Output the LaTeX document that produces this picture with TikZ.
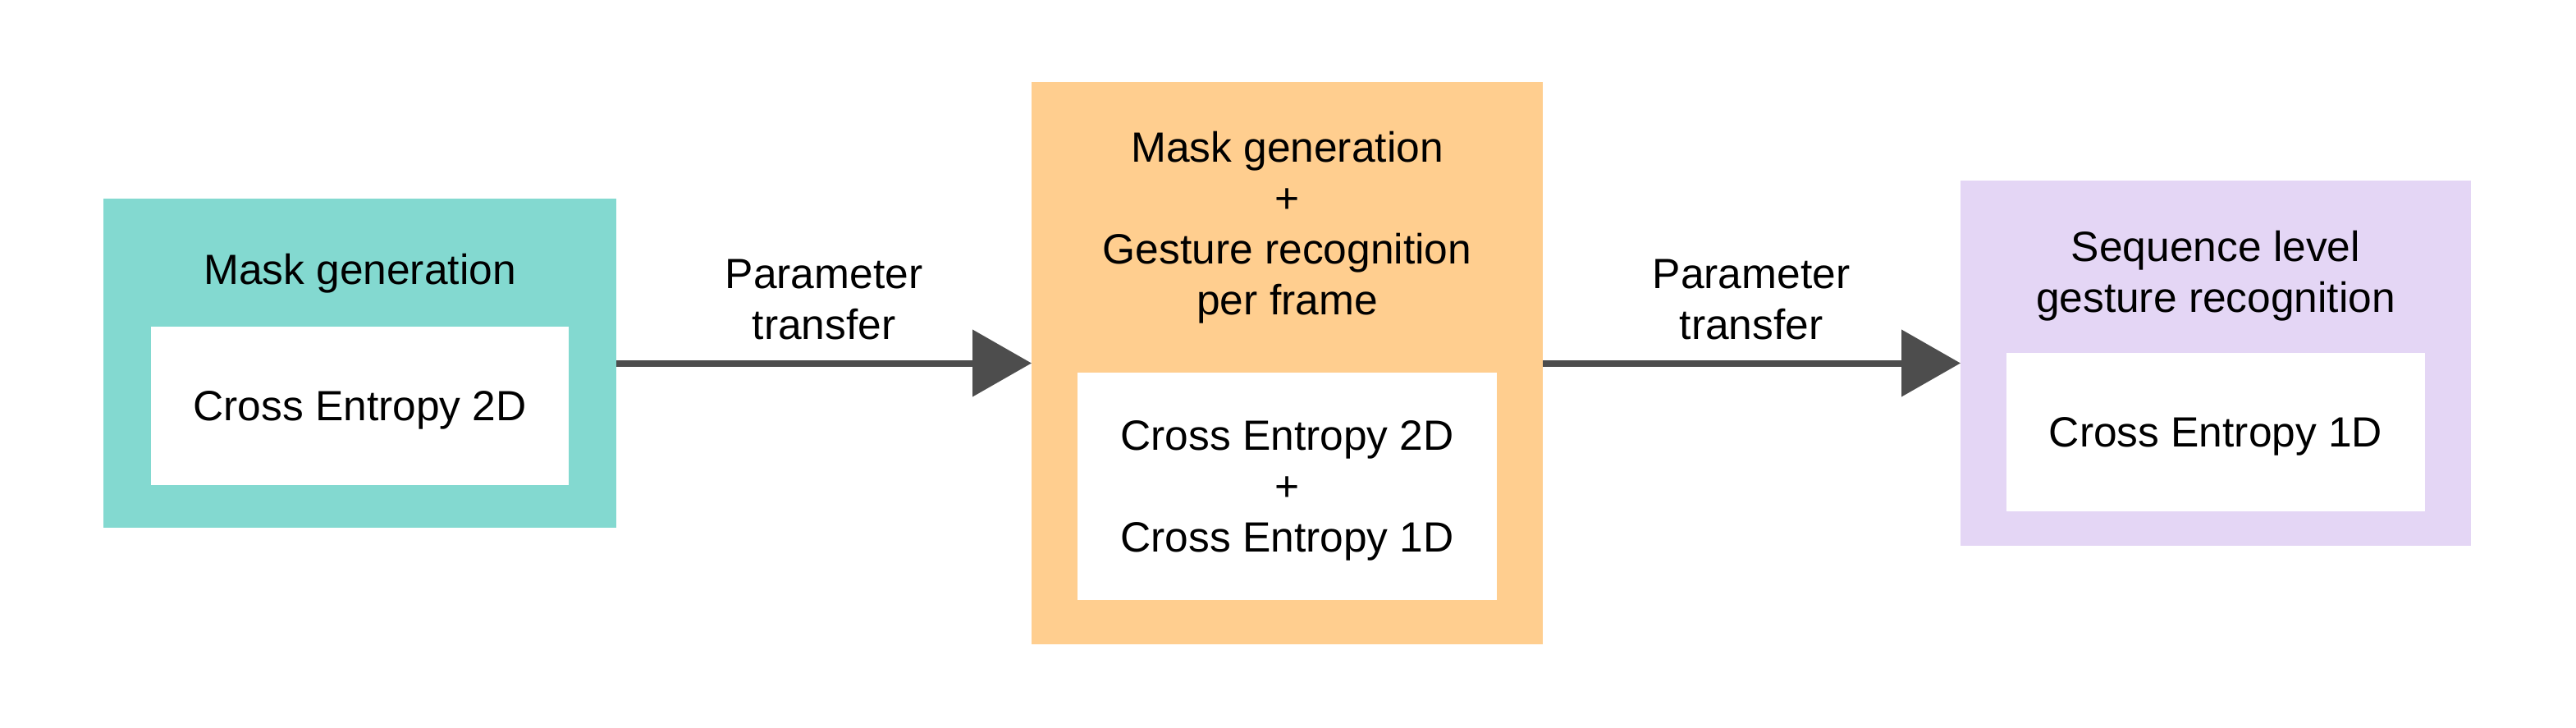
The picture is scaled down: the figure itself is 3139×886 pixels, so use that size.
\documentclass[tikz,border=0pt]{standalone}
\usepackage{fontspec}
\setmainfont{Liberation Sans}
\usetikzlibrary{arrows.meta}
\definecolor{tealbox}{RGB}{131,217,208}
\definecolor{orangebox}{RGB}{255,206,143}
\definecolor{lilacbox}{RGB}{228,214,245}
\definecolor{arrowgray}{RGB}{77,77,77}
\tikzset{
  outer/.style={draw=none, inner sep=0pt, outer sep=0pt},
  innerbox/.style={fill=white, draw=none, inner sep=0pt, outer sep=0pt},
  txt/.style={align=center, inner sep=0pt, yshift=-5pt, font=\fontsize{51.5}{62}\selectfont},
  arr/.style={draw=arrowgray, line width=8pt, -{Triangle[length=72pt,width=80pt]}},
}
\begin{document}
\begin{tikzpicture}[x=1pt,y=-1pt]
\useasboundingbox (0,0) rectangle (3139,886);
% box 1
\node[outer, fill=tealbox, minimum width=625pt, minimum height=401pt] (b1) at (438.5,442.5) {};
\node[innerbox, minimum width=509pt, minimum height=193pt] (i1) at (438.5,494.5) {};
\node[txt] (t1) at (438.5,328) {Mask generation};
\node[txt] (c1) at (438.5,494.5) {Cross Entropy 2D};
% box 2
\node[outer, fill=orangebox, minimum width=623pt, minimum height=685pt] (b2) at (1568.5,442.5) {};
\node[innerbox, minimum width=511pt, minimum height=277pt] (i2) at (1568.5,592.5) {};
\node[txt] (t2) at (1568.5,272) {Mask generation\\+\\Gesture recognition\\per frame};
\node[txt] (c2) at (1568.5,592.5) {Cross Entropy 2D\\+\\Cross Entropy 1D};
% box 3
\node[outer, fill=lilacbox, minimum width=622pt, minimum height=445pt] (b3) at (2700,442.5) {};
\node[innerbox, minimum width=510pt, minimum height=193pt] (i3) at (2700,526.5) {};
\node[txt] (t3) at (2700,331) {Sequence level\\gesture recognition};
\node[txt] (c3) at (2700,526.5) {Cross Entropy 1D};
% arrows
\draw[arr] (b1.east) -- (b2.west);
\draw[arr] (b2.east) -- (b3.west);
\node[txt] (p1) at (1004,360) {Parameter\\transfer};
\node[txt] (p2) at (2134,360) {Parameter\\transfer};
\end{tikzpicture}
\end{document}
